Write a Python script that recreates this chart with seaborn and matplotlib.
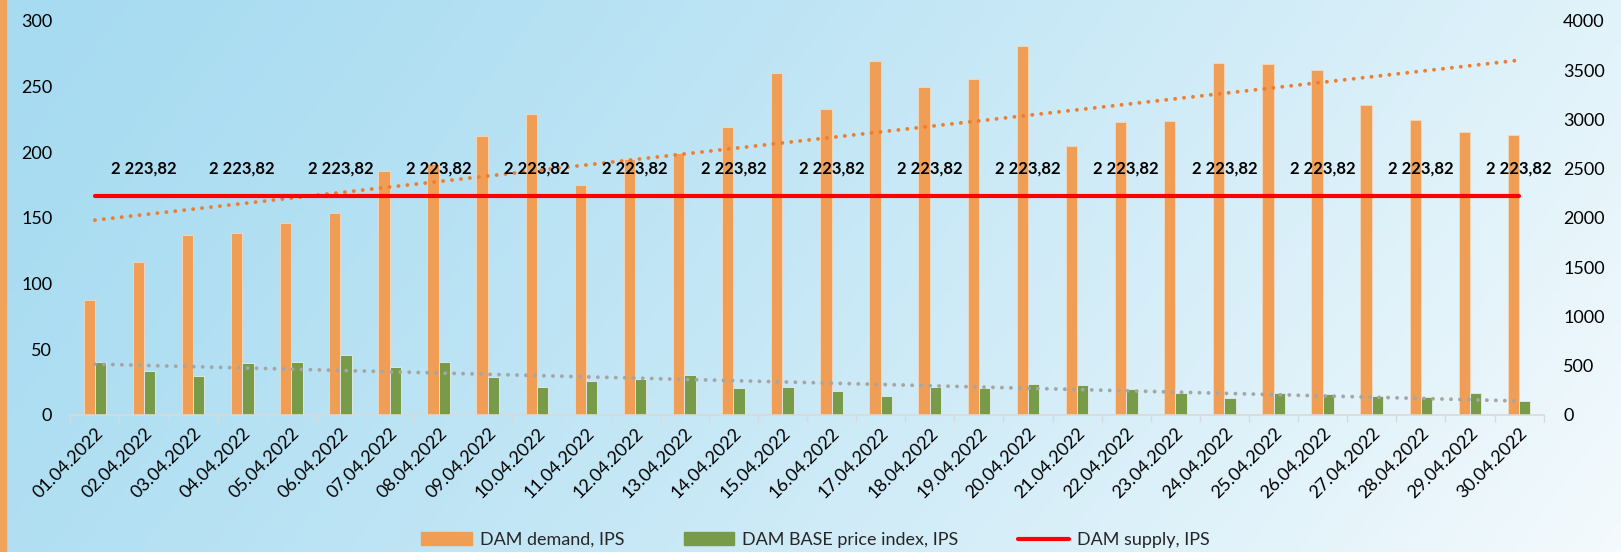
import numpy as np
import pandas as pd
import matplotlib.pyplot as plt
from matplotlib.patches import Patch, Rectangle
from matplotlib.lines import Line2D
import seaborn as sns

# data
dates = [f"{d:02d}.04.2022" for d in range(1, 31)]
demand = [1168, 1557, 1828, 1845, 1947, 2051, 2475, 2547, 2836, 3056,
          2339, 2600, 2657, 2928, 3469, 3111, 3595, 3333, 3412, 3751,
          2732, 2972, 2983, 3575, 3568, 3507, 3151, 2992, 2877, 2840]
price_index = [40.4, 33.3, 29.7, 39.6, 40.6, 45.5, 36.3, 40.4, 29.2, 21.1,
               25.9, 27.4, 30.5, 20.8, 21.6, 18.5, 14.2, 21.6, 20.8, 23.6,
               23.1, 19.5, 17.0, 12.9, 16.8, 15.8, 14.2, 13.7, 16.8, 10.4]
supply = [2223.82] * 30

name_demand = "DAM demand, IPS"
name_price = "DAM BASE price index, IPS"
name_supply = "DAM supply, IPS"

c_orange = "#F09E55"
c_green = "#779B48"
c_red = "#FF0000"

sns.set_theme(style="white")
plt.rcParams["font.family"] = ["Lato", "DejaVu Sans"]

fig = plt.figure(figsize=(16.21, 5.52), dpi=100)

# background gradient
bg = fig.add_axes([0, 0, 1, 1], zorder=-10)
xx, yy = np.meshgrid(np.linspace(0, 1, 400), np.linspace(0, 1, 150))
t = np.clip(0.8 * xx + 0.2 * yy, 0, 1) ** 1.25
c0 = np.array([0xA6, 0xDB, 0xF1]) / 255
c1 = np.array([0xF4, 0xFA, 0xFD]) / 255
img = c0[None, None, :] * (1 - t[..., None]) + c1[None, None, :] * t[..., None]
bg.imshow(img, aspect="auto", extent=[0, 1, 0, 1], origin="upper")
bg.axis("off")
fig.patches.append(Rectangle((0, 0), 6 / 1621, 1, transform=fig.transFigure,
                             color="#F0A35A", zorder=-5))

ax = fig.add_axes([0.0434, 0.2482, 0.9089, 0.7138])
ax2 = ax.twinx()

df_demand = pd.DataFrame({"date": dates, "value": demand, "series": name_demand})
df_price = pd.DataFrame({"date": dates, "value": price_index, "series": name_price})
pal = {name_demand: c_orange, name_price: c_green}
hue_order = [name_demand, name_price]

sns.barplot(data=df_price, x="date", y="value", hue="series", hue_order=hue_order,
            order=dates, palette=pal, width=0.46, dodge=True, saturation=1,
            errorbar=None, legend=False, ax=ax, edgecolor="#e6eef2", linewidth=0.6)
sns.barplot(data=df_demand, x="date", y="value", hue="series", hue_order=hue_order,
            order=dates, palette=pal, width=0.46, dodge=True, saturation=1,
            errorbar=None, legend=False, ax=ax2, edgecolor="#f3d9c0", linewidth=0.6)

x = np.arange(len(dates))
dot = dict(linestyle=(0, (0.01, 2.3)), dash_capstyle="round", linewidth=2.8)

# linear trend lines
k, b = np.polyfit(x, demand, 1)
ax2.plot(x, k * x + b, color="#ED7D31", zorder=4, **dot)
k, b = np.polyfit(x, price_index, 1)
ax.plot(x, k * x + b, color="#A5A5A5", zorder=4, **dot)

ax2.plot(x, supply, color=c_red, linewidth=3, solid_capstyle="round", zorder=5)
for i in range(1, len(x), 2):
    lbl = f"{supply[i]:,.2f}".replace(",", " ").replace(".", ",")
    ax2.annotate(lbl, (x[i], supply[i]), xytext=(0, 20), textcoords="offset points",
                 ha="center", va="center", fontsize=12, fontweight="bold",
                 color="black", zorder=6)

ax.set_zorder(ax2.get_zorder() + 1)
ax.patch.set_visible(False)
ax2.patch.set_visible(False)

ax.set_xlim(-0.5, len(dates) - 0.5)
ax.set_ylim(0, 300)
ax2.set_ylim(0, 4000)
ax.set_yticks(range(0, 301, 50))
ax2.set_yticks(range(0, 4001, 500))
ax.set_xlabel("")
ax.set_ylabel("")
ax2.set_ylabel("")

ax.set_xticks(x)
ax.set_xticklabels(dates, rotation=45, ha="right", va="top", rotation_mode="anchor")
ax.set_xticks(np.arange(-0.5, len(dates), 1), minor=True)
ax.tick_params(axis="x", which="major", length=0, pad=7, labelsize=13, colors="black")
ax.tick_params(axis="x", which="minor", length=5, width=1, color="#D9D9D9", direction="out",
               bottom=True)
ax.tick_params(axis="y", length=0, pad=13, labelsize=13, labelcolor="black")
ax2.tick_params(axis="y", length=0, pad=14, labelsize=13, labelcolor="black")
for lab in ax2.get_yticklabels():
    lab.set_ha("left")

for s in ["top", "left", "right"]:
    ax.spines[s].set_visible(False)
for s in ax2.spines.values():
    s.set_visible(False)
ax.spines["bottom"].set_color("#D9D9D9")
ax.spines["bottom"].set_linewidth(1.2)

handles = [Patch(color=c_orange), Patch(color=c_green),
           Line2D([], [], color=c_red, linewidth=3)]
fig.legend(handles, [name_demand, name_price, name_supply], loc="center",
           bbox_to_anchor=(0.503, 0.022), ncol=3, frameon=False, fontsize=13,
           handlelength=2.8, handletextpad=0.45, columnspacing=3.3)

fig.savefig("out.png", dpi=100)
